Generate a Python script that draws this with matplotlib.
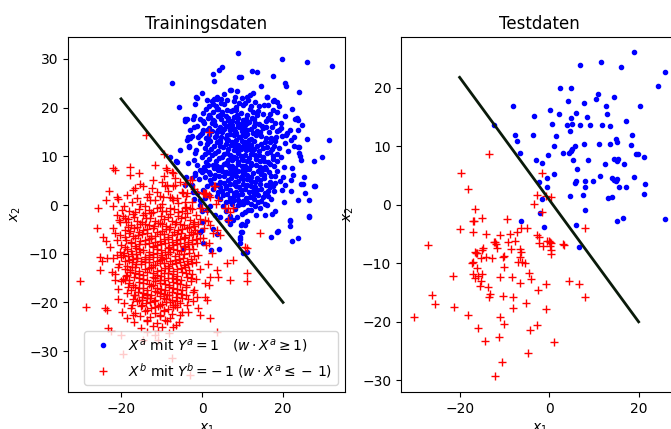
import numpy as np
import matplotlib
matplotlib.use("Agg")
import matplotlib.pyplot as plt

# ---------------- data ----------------
titles = ["Trainingsdaten", "Testdaten"]
label_a = r"$X^a$ mit $Y^a=1 \quad (w\cdot X^a \geq 1)$"
label_b = r"$X^b$ mit $Y^b=-\,1$ $(w\cdot X^a \leq -\,1)$"

line_x = [-20.0, 20.0]
line_y = [21.8, -20.0]

train_a = [
    (9.0,31.3),(19.7,29.9),(26.0,29.4),(32.2,28.5),(-7.3,25.1),(2.8,27.0),(4.2,27.7),(5.0,28.4),(3.0,25.5),
    (9.1,26.2),(9.6,26.2),(12.4,27.6),(13.6,27.4),(17.4,26.4),(20.5,25.0),(20.7,24.5),(14.6,24.5),(24.0,23.3),
    (-5.6,20.1),(-1.5,22.1),(-0.1,22.9),(-1.7,20.7),(1.2,21.6),(3.0,21.7),(3.8,22.1),(6.9,23.6),(8.7,23.5),
    (11.0,22.2),(16.0,22.2),(17.8,21.6),(22.3,19.8),(23.4,17.8),(24.6,16.4),(25.8,13.5),(31.4,13.3),(27.7,9.0),
    (29.6,9.9),(28.0,3.9),(26.3,1.0),(25.3,2.5),(24.0,10.6),(23.8,12.0),(22.6,12.1),(-4.2,17.6),(-3.5,14.0),
    (-3.1,12.0),(-5.4,11.3),(-7.9,9.9),(-6.3,8.8),(-4.0,5.8),(-1.7,6.2),(-2.6,4.1),(-1.3,2.4),(-0.5,1.0),
    (-0.1,-1.2),(-0.5,-5.6),(0.3,-7.9),(2.6,-4.9),(2.2,-9.2),(4.3,-9.1),(3.8,-6.0),(6.9,-2.7),(7.7,-3.1),
    (8.7,-2.4),(9.5,-4.1),(9.5,-5.6),(10.6,-4.2),(11.0,-3.3),(9.4,-6.9),(11.1,-9.7),(10.2,-9.9),(17.0,-6.5),
    (18.6,-5.5),(21.6,-3.3),(21.8,-4.4),(22.2,-7.4),(23.7,-6.8),(26.5,-2.4),(-4.6,-8.9),(15.6,-2.1),
    (27.7,4.0),(26.5,-2.2),(23.6,1.0),(25.0,4.4),(24.2,10.1),(24.4,9.2),(25.2,5.8),(24.4,4.4),(22.0,2.9),
    (20.2,0.7),(18.0,-1.2),(21.6,-3.1),(18.8,-5.3),(22.0,5.1),(20.5,4.1),(22.3,7.5),(20.1,5.8),(24.0,12.0),
    (12.5,23.1),(16.1,22.2),(17.4,21.4),(18.4,21.2),(19.1,20.3),(22.9,17.6),(23.8,17.5),(23.8,15.4),
    (21.6,15.4),(20.7,14.4),(19.1,15.5),(19.6,16.8),(22.6,14.0),(21.9,13.3),(-1.3,22.0),(5.4,22.8),(7.1,23.6),
    (2.6,20.7),(3.8,21.7),(4.6,20.9),(3.6,19.8),(6.1,21.6),(8.1,22.2),(9.8,21.9),(10.2,20.5),(11.3,21.6),
    (11.9,22.6),(7.6,19.5),(8.7,18.5),(4.4,18.5),(4.9,19.2),(2.0,18.1),(2.8,17.5),(3.2,16.4),(6.5,17.5),
    (7.3,16.4),(8.6,17.1),(10.2,17.5),(11.2,16.8),(12.3,17.8),(13.1,16.8),(5.3,15.7),(6.1,14.4),(8.1,15.1),
    (9.4,14.0),(11.0,15.4),(12.7,14.7),(4.0,15.4),(3.2,14.0),(4.4,13.3),(6.1,13.3),(-0.5,14.4),(-0.9,13.9),
    (-3.0,13.7),(-3.8,13.3),(-3.8,17.7),(-4.1,17.3),(-2.3,17.6),(-0.5,17.6),(0.2,17.2),(-3.0,15.5),
    (-1.9,16.1),(0.3,15.4),(1.4,13.0),(1.7,13.3),(-3.1,12.1),(-1.7,10.6),(-6.5,9.1),(-3.5,8.6),(-1.3,8.2),
    (-1.7,6.6),(-0.1,6.8),(-2.6,5.5),(-0.7,5.3),(-4.2,4.1),(-2.3,2.7),(0.3,3.1),(-2.1,1.2),(-0.5,0.0),
    (0.7,1.4),(1.8,2.1),(7.7,1.0),(9.4,0.3),(10.6,-1.4),(11.4,-1.0),(9.8,-3.8),(9.8,-5.5),(9.4,-6.5),
    (9.4,-7.9),(6.1,-3.1),(6.9,-3.8),(3.2,-2.1),(4.4,-2.4),(1.2,-1.0),(2.0,-0.3),(-0.1,-3.4),(-0.1,-5.1),
    (2.5,21.3),(5.5,20.8),(7.8,21.4),(10.5,20.9),(13.0,21.2),(15.2,20.6),
    (1.0,19.8),(3.5,20.3),(6.2,19.6),(8.5,20.2),(11.8,19.7),(14.0,20.4),(17.5,19.5),
    (0.2,18.9),(2.8,19.2),(5.0,18.6),(7.2,19.3),(9.6,18.8),(12.5,19.1),(15.0,18.7),(18.6,19.0),
    (-2.0,18.2),(1.5,17.8),(4.0,18.3),(6.5,17.9),(8.0,18.1),(10.8,17.7),(13.5,18.4),(16.2,17.9),(20.5,18.2),
    (0.5,16.8),(3.0,17.2),(5.5,16.9),(7.5,17.3),(9.5,16.7),(11.5,17.1),(14.0,16.6),(15.8,17.2),(18.0,16.9),
    (-1.2,16.2),(1.8,15.8),(4.5,16.1),(6.8,15.7),(8.8,16.3),(10.2,15.9),(12.8,16.2),(15.0,15.8),(17.2,16.1),(19.5,15.9),
    (0.0,14.8),(2.5,15.2),(5.0,14.9),(7.0,15.3),(8.5,14.7),(9.8,15.1),(11.0,14.6),(13.5,15.2),(16.5,14.9),(18.5,15.1),(21.0,14.8),
    (-2.5,14.2),(1.0,13.8),(3.5,14.1),(6.0,13.7),(7.8,14.3),(9.2,13.9),(10.5,14.2),(12.0,13.6),(14.5,14.1),(17.0,13.8),(19.8,14.2),
    (-0.5,12.8),(2.0,13.2),(4.5,12.9),(6.5,13.3),(8.0,12.7),(9.8,13.1),(11.2,12.6),(12.8,13.2),(15.5,12.9),(18.0,13.1),(20.5,12.8),
    (0.8,11.8),(3.0,12.2),(5.2,11.9),(7.2,12.3),(8.8,11.7),(10.2,12.1),(11.8,11.6),(13.5,12.2),(16.0,11.9),(17.8,12.1),(19.0,11.7),
    (-1.5,11.2),(1.5,10.8),(4.0,11.1),(6.2,10.7),(7.8,11.3),(9.0,10.9),(10.8,11.2),(12.3,10.6),(14.0,11.1),(16.8,10.8),(21.2,11.0),
    (0.0,9.8),(2.5,10.2),(5.0,9.9),(6.8,10.3),(8.5,9.7),(9.5,10.1),(11.5,9.6),(13.0,10.2),(15.0,9.9),(17.5,10.1),(19.5,9.8),
    (-2.0,9.2),(1.0,8.8),(3.5,9.1),(5.8,8.7),(7.5,9.3),(9.0,8.9),(10.2,9.2),(12.0,8.6),(14.2,9.1),(16.2,8.8),(18.5,9.0),
    (0.5,7.8),(2.8,8.2),(4.8,7.9),(6.5,8.3),(8.2,7.7),(9.8,8.1),(11.0,7.6),(13.2,8.2),(15.5,7.9),(17.8,8.1),(20.2,7.8),
    (-0.5,7.2),(1.8,6.8),(4.0,7.1),(6.0,6.7),(7.2,7.3),(8.8,6.9),(10.5,7.2),(12.5,6.6),(14.8,7.1),(16.5,6.8),
    (0.8,5.8),(3.2,6.2),(5.5,5.9),(7.5,6.3),(9.5,5.7),(11.2,6.1),(13.5,5.6),(15.2,6.2),(18.0,5.9),(22.5,6.1),
    (2.0,5.2),(4.5,4.8),(6.5,5.1),(8.2,4.7),(10.0,5.3),(12.0,4.9),(14.2,5.2),(16.8,4.8),(19.2,5.0),
    (1.2,3.8),(3.5,4.2),(5.8,3.9),(7.8,4.3),(9.2,3.7),(11.0,4.1),(13.0,3.6),(15.8,4.2),(17.5,3.9),
    (2.8,3.2),(5.0,2.8),(7.0,3.1),(8.5,2.7),(10.5,3.3),(12.5,2.9),(14.5,3.2),(16.2,2.8),(19.8,3.0),
    (3.8,1.8),(6.2,2.2),(8.0,1.9),(9.8,2.3),(11.8,1.7),(13.8,2.1),(15.0,1.6),
    (4.5,1.2),(6.8,0.8),(9.0,1.1),(11.0,0.7),(12.8,1.3),(14.5,0.9),(17.0,1.2),
    (5.2,-0.2),(7.5,0.3),(8.8,-0.1),(10.2,0.2),(13.0,-0.3),(16.0,0.1),
    (6.0,-1.2),(8.2,-0.8),(12.0,-1.1),(14.2,-0.7),
    (7.0,-2.2),(9.8,-1.8),(13.2,-2.1),(17.2,-1.9),
    (1.8,20.4),(4.8,21.8),(9.2,20.9),(12.2,20.3),(16.3,20.6),
    (1.8,18.5),(4.0,19.7),(6.0,18.2),(8.5,19.6),(11.0,18.4),(13.8,19.4),(16.8,18.6),
    (2.5,16.9),(4.8,17.6),(7.0,16.6),(9.0,17.9),(10.5,16.4),(12.8,17.6),(14.8,16.3),(17.0,17.5),
    (1.2,15.3),(3.8,15.0),(6.0,16.2),(7.8,15.6),(9.2,16.0),(10.5,15.2),(12.2,15.6),(14.2,15.0),(15.8,16.0),
    (1.8,14.4),(4.8,13.9),(7.0,14.5),(8.5,13.4),(10.0,14.6),(11.5,13.3),(13.2,14.4),(15.8,13.7),(18.2,14.0),
    (1.2,12.5),(3.8,13.0),(5.8,12.5),(7.5,13.0),(9.0,12.4),(10.5,12.9),(12.0,12.3),(14.5,12.6),(16.8,13.0),
    (2.2,11.5),(4.5,12.1),(6.5,11.5),(8.2,12.0),(9.5,11.5),(11.2,12.0),(12.8,11.4),(15.0,11.7),(17.2,11.5),
    (0.8,10.4),(3.2,10.6),(5.5,10.5),(7.2,10.0),(8.8,10.6),(10.5,10.3),(12.0,10.5),(14.0,10.2),(16.0,10.6),(18.5,10.4),
    (1.8,9.5),(4.2,9.6),(6.5,9.2),(8.0,9.8),(9.8,9.5),(11.2,9.0),(13.2,9.5),(15.2,9.0),(17.5,9.4),
    (1.5,8.3),(3.8,8.0),(5.5,8.5),(7.3,8.0),(9.0,8.4),(10.5,8.0),(12.2,8.3),(14.2,7.8),(16.8,8.4),
    (0.8,7.2),(3.0,7.5),(5.0,6.9),(6.8,7.5),(8.0,6.5),(9.8,7.0),(11.5,7.4),(13.8,6.9),(15.8,7.4),(18.5,7.0),
    (2.0,6.4),(4.2,6.0),(6.5,6.5),(8.5,6.0),(10.2,6.4),(12.2,5.8),(14.5,6.3),(17.0,6.0),
    (3.0,5.5),(5.5,4.6),(7.2,5.5),(9.0,4.9),(11.0,5.4),(13.0,4.7),(15.2,5.5),(18.0,4.6),
    (2.2,4.5),(4.5,3.6),(6.8,4.4),(8.5,3.9),(10.2,4.4),(12.0,3.8),(14.2,4.3),(16.8,3.6),
    (4.0,2.6),(6.0,3.4),(7.8,2.5),(9.5,3.0),(11.5,2.6),(13.5,3.0),(15.5,2.4),(17.8,2.8),
    (5.2,2.0),(7.0,1.5),(9.0,2.0),(10.8,1.5),(12.8,2.3),(16.2,1.8),
    (5.8,0.6),(8.0,1.0),(10.0,0.9),(12.0,0.2),(13.8,0.6),(15.5,0.3),
]

train_b = [
    (-13.9,14.4),(1.8,14.9),(-22.1,7.5),(-21.5,7.1),(-17.9,7.9),(-17.8,6.2),(-15.3,4.4),(-17.1,3.1),(-16.5,3.4),
    (-22.9,2.9),(-23.7,1.0),(-25.6,-0.7),(-21.1,1.7),(-20.7,1.2),(-9.5,10.5),(-8.7,7.2),(-7.5,6.8),(-10.0,4.8),
    (-9.1,3.8),(-12.4,3.4),(-11.2,2.7),(-7.1,3.8),(-5.4,4.8),(-3.0,5.1),(-7.9,1.7),(-7.5,1.4),(-7.1,1.0),
    (-5.0,2.7),(-4.2,0.7),(-1.2,2.7),(0.6,2.4),(1.0,2.5),(3.2,3.8),(4.0,1.0),(-13.7,1.7),(-12.8,1.0),
    (-11.6,1.0),(-10.0,0.3),(-10.4,-0.5),(-17.4,0.7),(-15.3,0.3),(-14.1,-0.3),(-19.3,-0.3),(-19.8,-1.0),
    (-21.9,-0.3),(-4.2,-0.7),(-3.0,-0.7),(-0.5,-0.7),(3.5,0.2),(6.5,-0.7),(7.7,-0.7),(-8.9,7.5),(-7.1,6.5),
    (-8.6,4.1),(-6.7,4.1),(-4.2,4.3),(-2.6,5.1),(-4.6,2.5),(-3.8,2.4),(-2.1,3.2),(-9.7,1.7),(-6.3,1.4),
    (0.3,2.5),(0.7,2.3),(3.0,3.9),(2.0,1.6),(1.6,2.1),(-0.1,-0.7),(1.2,-1.2),(5.7,-0.7),(6.9,-1.4),(6.5,-3.1),
    (0.7,-3.1),(2.0,-4.1),(3.6,-5.1),(4.4,-6.2),(0.3,-6.8),(1.6,-7.9),(-2.1,-4.4),(-1.3,-5.8),(10.6,-8.6),
    (14.3,-5.8),(11.0,-8.9),(6.1,-12.0),(6.9,-15.4),(11.0,-14.0),(11.2,-15.7),(7.7,-11.3),(3.6,-13.3),
    (4.0,-14.7),(2.0,-14.7),(1.6,-16.4),(0.7,-18.8),(-2.1,-17.5),(-1.3,-18.8),(-3.8,-20.5),(-6.3,-19.8),
    (-7.1,-20.5),(-8.7,-18.5),(-11.2,-17.8),(-13.7,-18.5),(-14.9,-19.5),(-16.5,-18.5),(-18.2,-16.8),
    (-19.0,-15.4),(-18.6,-14.4),(-20.7,-12.7),(-21.9,-10.9),(-17.4,-12.7),(-16.1,-10.9),
    (-30.1,-15.6),(-28.6,-20.9),(-26.0,-4.7),(-23.7,-7.3),(-25.2,-10.6),(-24.8,-11.6),(-25.3,-13.3),
    (-23.9,-21.2),(-23.5,-21.6),(-23.1,-25.3),(-22.6,-25.9),(-20.1,-26.7),(-19.6,-30.5),(-14.5,-27.7),
    (-11.6,-26.7),(-10.8,-27.7),(-7.5,-31.5),(-3.0,-35.0),(3.6,-26.0),(2.0,-23.3),(-0.5,-22.6),(-0.9,-21.2),
    (1.3,-19.5),(-5.0,-21.9),(-5.4,-22.6),(-7.1,-25.0),(-8.7,-23.9),(-10.4,-22.6),(-13.7,-23.6),(-17.0,-22.6),
    (-19.8,-21.9),(-17.4,-20.5),(-20.7,-19.2),(-20.1,-15.7),(-21.5,-15.4),(-22.3,-13.7),(-23.4,-10.9),
    (-22.7,-8.6),(-21.1,-7.2),(-20.2,-9.6),(-19.4,-10.3),(-24.4,-6.5),(-21.9,-4.8),(-21.5,-5.8),
    (-20.2,-3.4),(-19.0,-2.7),(-21.1,-2.1),
    (-16.0,1.5),(-13.0,2.2),(-10.5,1.8),(-8.5,2.8),(-6.0,0.5),(-4.0,1.8),(-2.5,0.6),(-18.5,2.0),(-14.5,3.8),
    (-12.0,5.2),(-9.5,6.0),(-15.5,6.5),(-11.5,8.2),(-6.8,5.5),
    (-18,-1.2),(-15.5,-0.8),(-13,-1.1),(-11,-0.7),(-9,-1.3),(-7,-0.9),(-5,-1.2),(-2.5,-0.8),
    (-19.5,-2.2),(-17,-1.8),(-14.5,-2.1),(-12.5,-1.7),(-10.2,-2.3),(-8,-1.9),(-6,-2.2),(-3.8,-1.7),(-1.5,-2.1),
    (-20.5,-3.1),(-18.2,-2.8),(-16,-3.2),(-13.8,-2.7),(-11.5,-3.3),(-9.5,-2.9),(-7.5,-3.2),(-5.2,-2.7),(-3,-3.1),(-0.5,-2.8),(1.5,-3.2),
    (-17.5,-4.2),(-15.2,-3.8),(-13,-4.1),(-10.8,-3.7),(-8.8,-4.3),(-6.8,-3.9),(-4.5,-4.2),(-2.2,-3.8),
    (-19,-5.2),(-16.8,-4.8),(-14.5,-5.1),(-12.2,-4.7),(-10,-5.3),(-8.2,-4.9),(-6,-5.2),(-3.8,-4.8),(-1.8,-5.1),(0.5,-4.7),
    (-20.2,-6.1),(-18,-5.8),(-15.8,-6.2),(-13.5,-5.7),(-11.5,-6.3),(-9.5,-5.9),(-7.5,-6.2),(-5.2,-5.7),(-3.2,-6.1),(2.8,-5.8),
    (-18.8,-7.2),(-16.5,-6.8),(-14.2,-7.1),(-12.5,-6.7),(-10.5,-7.3),(-8.5,-6.9),(-6.5,-7.2),(-4.5,-6.8),(-2.5,-7.1),(-0.5,-6.7),
    (-20,-8.2),(-17.5,-7.8),(-15.5,-8.1),(-13.2,-7.7),(-11.2,-8.3),(-9.2,-7.9),(-7.2,-8.2),(-5.5,-7.7),(-3.5,-8.1),(-1.2,-7.8),(1,-8.2),
    (-18.5,-9.1),(-16.2,-8.8),(-14.5,-9.2),(-12.2,-8.7),(-10.2,-9.3),(-8.5,-8.9),(-6.2,-9.2),(-4.2,-8.7),(-2.2,-9.1),
    (-21,-10.2),(-19.2,-9.8),(-17.2,-10.1),(-15.2,-9.7),(-13,-10.3),(-11,-9.9),(-9.8,-10.2),(-7.8,-9.7),(-5.8,-10.1),(-3.2,-9.8),(-1,-10.2),(2.5,-9.9),
    (-18,-11.2),(-16,-10.8),(-14,-11.1),(-12,-10.7),(-10.5,-11.3),(-8.8,-10.9),(-6.8,-11.2),(-4.8,-10.8),(-2.8,-11.1),
    (-20.5,-12.1),(-17.2,-11.8),(-15,-12.2),(-13.2,-11.7),(-11.5,-12.3),(-9.5,-11.9),(-7.5,-12.2),(-5.5,-11.7),(-3.5,-12.1),(-1.5,-11.8),(1.5,-12.2),
    (-19,-13.2),(-16.5,-12.8),(-14.2,-13.1),(-12.5,-12.7),(-10.2,-13.3),(-8.2,-12.9),(-6.2,-13.2),(-4.2,-12.8),(-0.5,-13.1),
    (-21.5,-14.1),(-17.8,-13.8),(-15.5,-14.2),(-13.5,-13.7),(-11.2,-14.3),(-9.5,-13.9),(-7.2,-14.2),(-5,-13.7),(-2.5,-14.1),
    (-19.5,-15.2),(-16.8,-14.8),(-14.5,-15.1),(-12.2,-14.7),(-10.5,-15.3),(-8.5,-14.9),(-6.5,-15.2),(-3.8,-14.8),(-1.5,-15.1),
    (-18,-16.1),(-15.5,-15.8),(-13.2,-16.2),(-11.5,-15.7),(-9.2,-16.3),(-7.2,-15.9),(-5.5,-16.2),(-2.8,-15.7),(0.8,-16.1),
    (-20.8,-17.2),(-16.5,-16.8),(-14.5,-17.1),(-12.5,-16.7),(-10.2,-17.3),(-8.2,-16.9),(-6.2,-17.2),(-4,-16.8),
    (-18.5,-18.1),(-15.8,-17.8),(-13.5,-18.2),(-11.5,-17.7),(-9.5,-18.3),(-7.5,-17.9),(-5.2,-18.2),(-2.2,-17.8),
    (-17,-19.2),(-14.8,-18.8),(-12.8,-19.1),(-10.5,-18.7),(-8.8,-19.3),(-6.5,-18.9),(-3.5,-19.2),
    (-19.2,-20.1),(-16,-19.8),(-13.8,-20.2),(-11.8,-19.7),(-9.8,-20.3),(-7.8,-19.9),(-5.5,-20.2),(-2.2,-19.8),
    (-17.5,-21.2),(-15,-20.8),(-12.5,-21.1),(-10.8,-20.7),(-8.5,-21.3),(-6.2,-20.9),
    (-16.5,-22.1),(-14,-21.8),(-11.5,-22.2),(-9.5,-21.7),(-7.5,-22.3),(-3.5,-21.9),
    (-18.5,-23.2),(-15.2,-22.8),(-12.8,-23.1),(-10.5,-22.7),(-8,-23.3),
    (-16.8,-24.1),(-13.5,-23.8),(-11.2,-24.2),(-9.2,-23.7),(-5.8,-24.1),
    (-15,-25.2),(-12,-24.8),(-9.8,-25.1),(-6.5,-24.7),
    (-13.5,-26.1),(-10.8,-25.8),(-8.2,-26.2),
    (-16.5,-1.5),(-14,-1.6),(-12,-1.4),(-10,-1.2),(-8,-0.6),(-6,-1.5),(-4,-0.5),
    (-18.8,-3.5),(-16.8,-2.5),(-14.8,-3.4),(-12.8,-2.6),(-10.5,-3.6),(-8.5,-2.5),(-6.5,-3.5),(-4.2,-2.5),(-2,-3.4),
    (-18.2,-4.6),(-16,-4.5),(-14,-3.9),(-11.8,-4.4),(-9.8,-3.9),(-7.8,-4.5),(-5.5,-3.9),(-3.2,-4.5),(-1,-4.0),
    (-17.8,-5.4),(-15.5,-5.5),(-13.5,-4.9),(-11,-5.5),(-9,-5.0),(-7,-5.5),(-5,-4.9),(-2.8,-5.6),
    (-19,-6.5),(-17,-6.4),(-14.8,-6.0),(-12.5,-6.4),(-10.5,-6.0),(-8.5,-6.5),(-6.2,-6.0),(-4.2,-6.5),(-2.2,-5.9),
    (-17.5,-7.5),(-15.2,-7.4),(-13.2,-7.0),(-11.5,-7.6),(-9.5,-7.0),(-7.5,-7.6),(-5.5,-7.0),(-3.5,-7.5),(-1.5,-6.9),
    (-19,-8.6),(-16.5,-8.4),(-14.2,-8.0),(-12.2,-8.5),(-10.2,-8.0),(-8.2,-8.6),(-6.2,-8.0),(-4.5,-8.5),(-2.5,-8.0),
    (-17.5,-9.5),(-15.5,-9.0),(-13.2,-9.6),(-11.2,-9.0),(-9.2,-9.6),(-7.2,-9.0),(-5.2,-9.5),(-3.2,-9.0),
    (-20,-10.6),(-18.2,-10.5),(-16.2,-10.0),(-14.2,-10.6),(-12,-10.0),(-10.2,-10.6),(-8.5,-10.0),(-6.8,-10.5),(-4.5,-10.0),(-2,-10.5),
    (-19,-11.5),(-17,-11.0),(-15,-11.6),(-13,-11.0),(-11.2,-11.6),(-9.8,-11.0),(-7.8,-11.6),(-5.8,-11.0),(-3.8,-11.6),
    (-18.5,-12.5),(-16.2,-12.2),(-14.2,-11.8),(-12.2,-12.4),(-10.5,-11.9),(-8.5,-12.5),(-6.5,-11.9),(-4.5,-12.4),(-2.5,-12.0),
    (-17.8,-13.4),(-15.5,-13.5),(-13.2,-13.0),(-11.2,-13.5),(-9.2,-13.0),(-7.2,-13.5),(-5.2,-13.0),(-3.2,-13.4),
    (-18.8,-14.5),(-16.5,-14.0),(-14.5,-14.4),(-12.2,-14.0),(-10.2,-14.5),(-8.5,-14.0),(-6.2,-14.5),(-4,-14.0),
    (-18,-15.5),(-15.5,-15.0),(-13.5,-15.5),(-11.5,-15.0),(-9.5,-15.5),(-7.5,-15.0),(-5.2,-15.5),(-2.8,-15.0),
    (-17,-16.5),(-14.5,-16.0),(-12.2,-16.5),(-10.5,-16.0),(-8.2,-16.5),(-6.2,-16.0),(-4,-16.5),
    (-17.5,-17.5),(-15.5,-17.0),(-13.5,-17.5),(-11.2,-17.0),(-9.2,-17.5),(-7.2,-17.0),(-5,-17.5),
    (-16.8,-18.5),(-14.5,-18.0),(-12.5,-18.5),(-10.5,-18.0),(-8.2,-18.5),(-6.2,-18.0),(-4,-18.5),
    (-15.5,-19.5),(-13.5,-19.0),(-11.5,-19.5),(-9.5,-19.0),(-7.5,-19.5),(-5,-19.0),
    (-14.8,-20.5),(-12.8,-20.0),(-10.5,-20.5),(-8.8,-20.0),(-6.8,-20.5),
    (-13.5,-21.5),(-11.5,-21.0),(-9.5,-21.5),(-7.2,-21.0),
]

test_a = [
    (19.0,26.1),(6.9,23.9),(11.5,24.4),(16.0,23.6),(25.9,22.8),(24.4,20.3),(2.5,19.9),(4.8,19.9),(20.4,16.9),
    (-8.0,16.9),(4.2,17.7),(7.9,17.4),(10.5,18.1),(10.9,19.0),(14.5,18.5),(12.7,16.9),(-3.3,15.2),(0.3,16.2),
    (2.1,15.6),(6.0,15.7),(8.5,15.0),(13.0,15.6),(5.0,14.8),(5.2,13.8),(3.9,13.6),(6.8,13.6),(9.2,13.6),
    (11.8,13.7),(13.7,13.4),(17.1,14.4),(-12.4,13.7),(0.7,13.9),(4.7,12.6),(-7.6,11.9),(-7.2,10.9),(-3.7,12.0),
    (1.6,11.7),(18.5,11.9),(15.0,11.2),(15.2,10.8),(13.5,10.4),(11.1,10.4),(7.7,10.4),(5.7,10.0),(5.2,9.6),
    (1.2,10.0),(18.3,10.3),(-6.5,8.8),(-0.2,8.5),(3.1,8.9),(4.5,8.8),(4.8,9.2),(19.4,8.7),(19.8,8.7),(21.3,8.1),
    (5.4,7.7),(14.6,7.8),(15.1,7.5),(15.5,7.8),(16.8,7.0),(12.4,7.0),(-3.0,7.7),(-1.7,7.2),(6.3,6.2),(1.2,5.2),
    (11.3,5.0),(14.0,4.6),(14.5,4.3),(15.1,4.4),(14.9,4.0),(19.0,4.7),(-0.5,4.6),(5.7,3.8),(6.1,4.0),(8.1,4.0),
    (9.9,4.0),(-2.2,3.9),(21.5,3.6),(-0.5,3.1),(8.1,3.1),(15.7,3.1),(17.1,3.1),(21.2,1.8),(4.6,1.5),(7.6,1.6),
    (13.2,1.1),(14.0,1.3),(-1.7,1.0),(8.1,-0.9),(-2.0,-1.4),(8.6,7.7),
    (-6.3,-2.8),(-1.2,-3.8),(6.0,-3.5),(6.7,-7.2),(15.2,-2.7),(16.4,-2.3),(26.0,-2.4),
]

test_b = [
    (-13.4,8.7),(-19.8,5.4),(-18.1,2.7),(-16.5,-0.7),(-1.6,5.4),(-2.8,1.7),(-3.4,0.2),(-0.7,1.5),(0.4,1.3),
    (-1.5,-1.3),(-15.0,-2.3),(-17.0,-2.8),(-9.5,-2.4),(-20.0,-4.2),(-17.1,-4.6),(-14.0,-4.9),(-10.9,-5.1),
    (-8.7,-5.0),(-7.2,-4.7),(-6.3,-4.0),(-4.9,-3.9),(-7.6,-6.2),(-9.2,-6.3),(-12.2,-6.3),(-2.8,-5.2),
    (-2.3,-5.5),(8.0,-4.0),(-0.1,-6.2),(0.2,-6.4),(3.2,-6.7),(-27.1,-6.9),(-16.8,-2.7),
    (-12.4,-6.4),(-11.8,-6.7),(-11.7,-7.4),(-16.5,-8.0),(-16.2,-8.3),(-15.0,-7.7),(-14.1,-9.0),(-15.3,-9.1),
    (-8.5,-7.6),(-6.6,-7.6),(-6.3,-8.0),(-6.6,-8.9),(-6.1,-9.7),(-5.3,-10.0),(-6.9,-9.7),(-2.2,-6.6),
    (-1.3,-7.1),(-0.4,-6.1),(0.4,-6.6),(0.1,-7.1),(0.4,-7.7),(0.4,-8.4),(3.4,-6.9),(-17.3,-10.0),(-16.2,-10.8),
    (-16.9,-11.9),(-15.8,-12.1),(-15.0,-11.8),(-15.2,-13.1),(-15.4,-13.8),(-16.5,-12.5),(-21.5,-12.1),
    (-10.9,-12.4),(-10.0,-10.7),(-8.3,-12.4),(-6.6,-13.4),(-4.6,-11.6),(-4.1,-12.7),(-10.2,-9.0),(-0.7,-13.5),
    (-2.5,-14.5),(-13.6,-14.1),(-13.2,-15.2),(-13.4,-15.8),(-10.2,-15.5),(-8.0,-15.7),(-5.1,-16.7),(4.5,-13.0),
    (6.7,-13.5),(8.0,-15.8),(-26.2,-15.4),(-25.5,-17.0),(-21.2,-17.5),(-8.0,-17.6),(-0.7,-17.8),(-30.3,-19.1),
    (-18.2,-18.8),(-10.9,-19.1),(-10.0,-20.3),(-16.0,-21.1),(-2.6,-20.5),(-4.2,-21.4),(-11.1,-22.6),
    (-14.3,-23.2),(1.2,-23.5),(-4.8,-25.4),(-10.6,-26.8),(-12.2,-29.2),(-17.1,-9.7),(-16.3,-8.3),(-14.8,-7.4),
    (-12.7,-9.1),(-10.1,-8.8),
]

xlims = [(-33.1, 35.3), (-33.1, 28.8)]
ylims = [(-38.4, 34.5), (-32.0, 28.7)]
yticks = [[-30, -20, -10, 0, 10, 20, 30], [-30, -20, -10, 0, 10, 20]]
xticks = [-20, 0, 20]

# ---------------- drawing ----------------
W, H = 671, 429
fig = plt.figure(figsize=(W / 100, H / 100), dpi=100)
ax1 = fig.add_axes([68 / W, (H - 392) / H, 277 / W, 355 / H])
ax2 = fig.add_axes([401 / W, (H - 392) / H, 277 / W, 355 / H])

datasets = [(train_a, train_b), (test_a, test_b)]
for i, (ax, (pa, pb)) in enumerate(zip([ax1, ax2], datasets)):
    a = np.array(pa).T
    b = np.array(pb).T
    ax.plot(a[0], a[1], "b.", label=label_a)
    ax.plot(b[0], b[1], "r+", label=label_b)
    ax.plot(line_x, line_y, color="#0a1a0a", linewidth=2)
    ax.set_title(titles[i], fontsize=12)
    ax.set_xlim(*xlims[i])
    ax.set_ylim(*ylims[i])
    ax.set_xticks(xticks)
    ax.set_yticks(yticks[i])
    ax.set_xlabel(r"$x_1$")
    ax.set_ylabel(r"$x_2$")
    ax.tick_params(labelsize=10)

ax1.legend(loc="lower right", fontsize=10)

fig.savefig("out.png", dpi=100)
